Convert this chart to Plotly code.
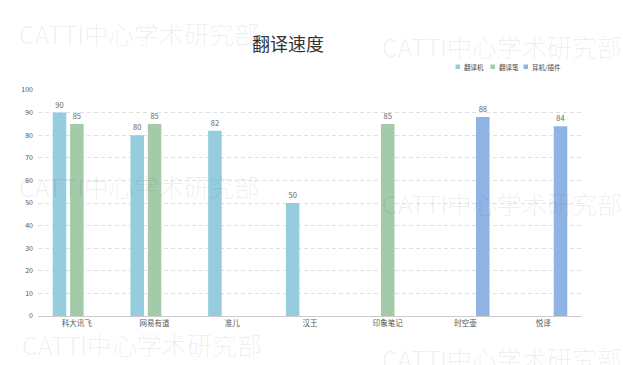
import plotly.graph_objects as go

categories = ["科大讯飞", "网易有道", "准儿", "汉王", "印象笔记", "时空壶", "悦译"]
series_names = ["翻译机", "翻译笔", "耳机/插件"]
translator = [90, 80, 82, 50, None, None, None]
pen = [85, 85, None, None, 85, None, None]
earphone = [None, None, None, None, None, 88, 84]
colors = ["#95CDDE", "#A3CBAA", "#8FB4E3"]
watermark = "CATTI中心学术研究部"

FONT = "Noto Sans CJK SC, Noto Sans, sans-serif"

fig = go.Figure()
for name, vals, col in zip(series_names, [translator, pen, earphone], colors):
    fig.add_trace(go.Bar(
        x=categories, y=vals, name=name, marker_color=col, marker_line_width=0,
        text=[str(v) if v is not None else "" for v in vals],
        textposition="outside", textfont=dict(size=7.5, color="#666", family=FONT),
        cliponaxis=False, showlegend=False,
    ))

fig.update_layout(
    width=623, height=365,
    margin=dict(l=38, r=41, t=90, b=49),
    paper_bgcolor="white", plot_bgcolor="white",
    barmode="group", bargap=0.33, bargroupgap=0.22,
    font=dict(family=FONT, color="#666", size=8),
    showlegend=False,
)
fig.update_xaxes(showgrid=False, showline=True, linecolor="#cccccc", linewidth=1,
                 ticks="", tickfont=dict(size=7.5, color="#555"))
fig.update_yaxes(range=[0, 100], dtick=10, showgrid=True, gridcolor="#e0e0e0",
                 griddash="4px,3px", zeroline=False, showline=False,
                 tickfont=dict(size=7, color="#555"), ticklabelstandoff=4)

# title
fig.add_annotation(text="翻译速度", xref="x domain", yref="y domain",
                   x=(288-38)/544, y=(316-43)/226, xanchor="center", yanchor="middle",
                   showarrow=False, font=dict(size=18, color="#333", family=FONT))

# legend (custom, compact)
leg_x = [455.5, 490.5, 523.5]
for name, col, lx in zip(series_names, colors, leg_x):
    fig.add_shape(type="rect", xref="x domain", yref="y domain",
                  x0=(lx-38)/544, x1=(lx+4.5-38)/544,
                  y0=(316-69)/226, y1=(316-64.5)/226,
                  fillcolor=col, line_width=0)
    fig.add_annotation(text=name, xref="x domain", yref="y domain",
                       x=(lx+6-38)/544, y=(316-66.7)/226, xanchor="left", yanchor="middle",
                       showarrow=False, font=dict(size=6.5, color="#444", family=FONT))

# watermarks
wm_pos = [(17, 33), (380, 46), (17, 186), (380, 203), (20, 344), (380, 358)]
for wx, wy in wm_pos:
    fig.add_annotation(text=watermark, xref="x domain", yref="y domain",
                       x=(wx-38)/544, y=(316-wy)/226, xanchor="left", yanchor="middle",
                       showarrow=False,
                       font=dict(size=25, color="rgba(0,0,0,0.08)", family=FONT, weight=300))

fig.write_html("out.html")
